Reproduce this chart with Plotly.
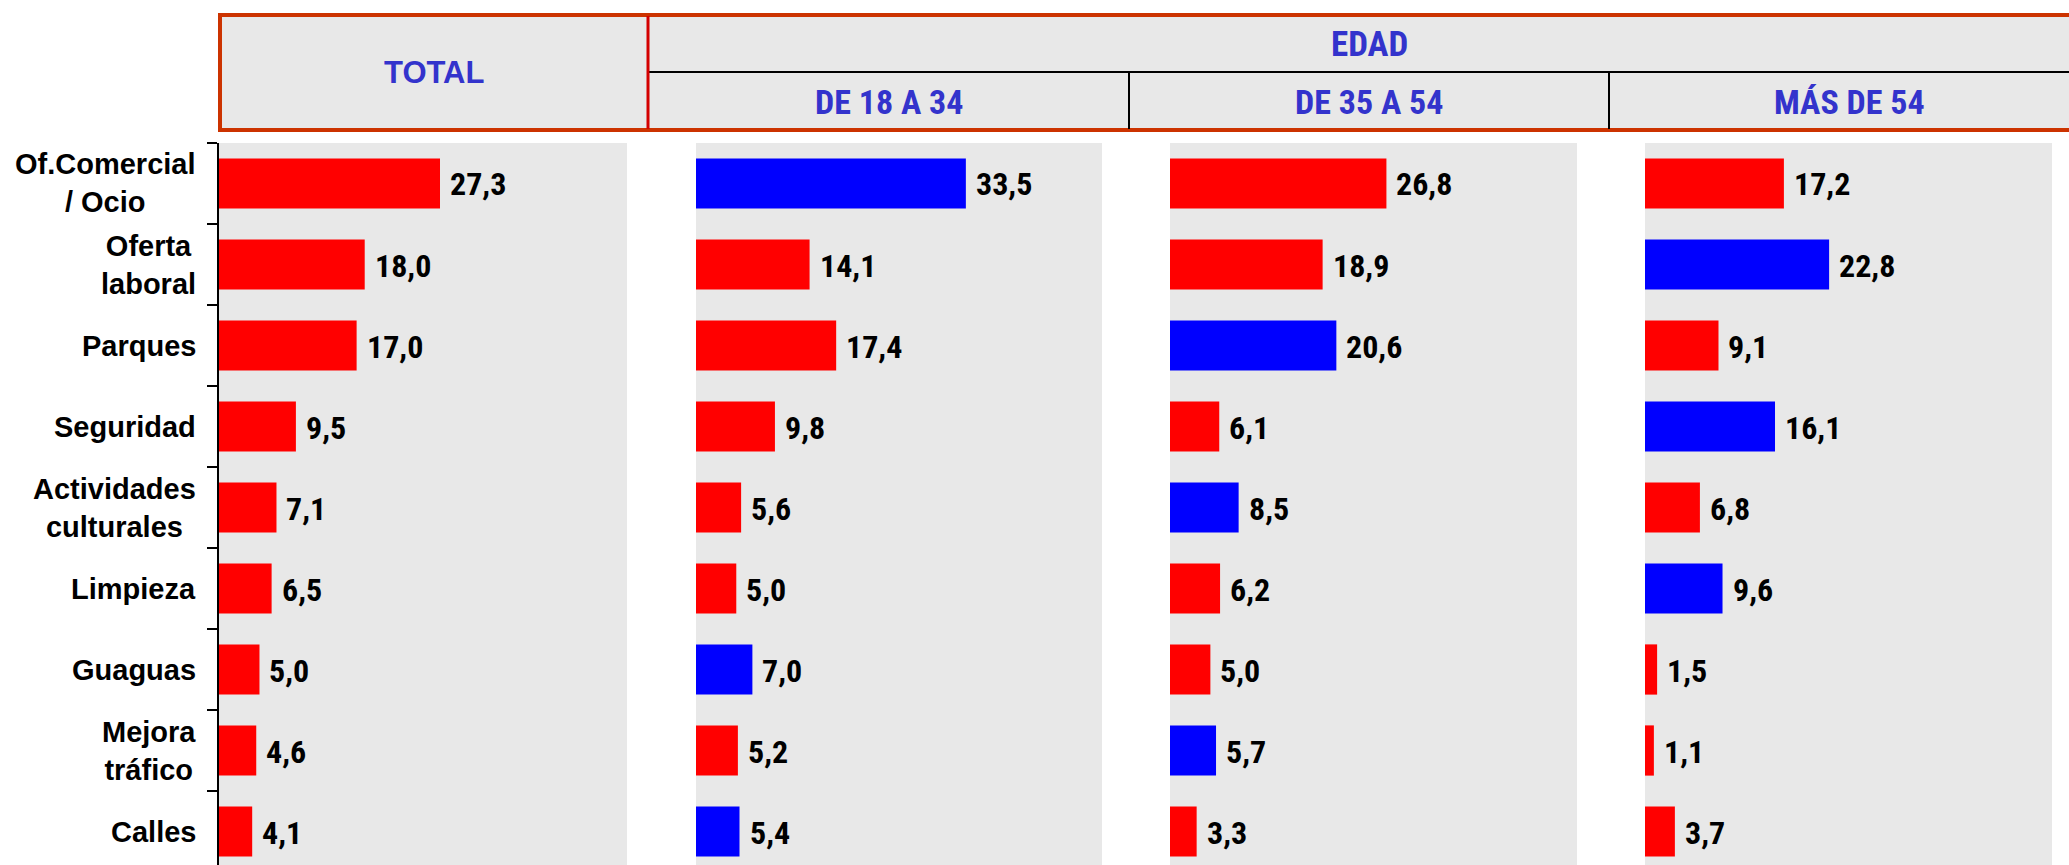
import plotly.graph_objects as go

# ---------------- data ----------------
categories = ["Of.Comercial / Ocio", "Oferta laboral", "Parques", "Seguridad",
              "Actividades culturales", "Limpieza", "Guaguas", "Mejora tráfico", "Calles"]
category_labels = ["Of.Comercial<br>/ Ocio", "Oferta<br>laboral", "Parques", "Seguridad",
                   "Actividades<br>culturales", "Limpieza", "Guaguas", "Mejora<br>tráfico", "Calles"]

panel_titles = ["TOTAL", "DE 18 A 34", "DE 35 A 54", "MÁS DE 54"]
group_title = "EDAD"

total = [27.3, 18.0, 17.0, 9.5, 7.1, 6.5, 5.0, 4.6, 4.1]
edad_18_34 = [33.5, 14.1, 17.4, 9.8, 5.6, 5.0, 7.0, 5.2, 5.4]
edad_35_54 = [26.8, 18.9, 20.6, 6.1, 8.5, 6.2, 5.0, 5.7, 3.3]
edad_mas_54 = [17.2, 22.8, 9.1, 16.1, 6.8, 9.6, 1.5, 1.1, 3.7]

# highlighted (blue) cells
hl_total = [False] * 9
hl_18_34 = [True, False, False, False, False, False, True, False, True]
hl_35_54 = [False, False, True, False, True, False, False, True, False]
hl_mas_54 = [False, True, False, True, False, True, False, False, False]

series = [total, edad_18_34, edad_35_54, edad_mas_54]
highlights = [hl_total, hl_18_34, hl_35_54, hl_mas_54]

# ---------------- layout constants ----------------
W, H = 2069, 865
RED = "#ff0000"
BLUE = "#0000ff"
HEAD_BLUE = "#3333cc"
NARROW = "Liberation Sans Narrow, Arial Narrow, Roboto Condensed, Liberation Sans, sans-serif"
SANS = "Liberation Sans, Arial, sans-serif"

panel_px = [(219, 627), (696, 1102), (1170, 1577), (1645, 2052)]
plot_top = 143
cat_h = 81.0
x_max = 50.4

def px(x):
    return x / W

def py(y):
    return 1 - y / H

fig = go.Figure()
annotations = []

for i, (vals, hl) in enumerate(zip(series, highlights)):
    ax = "" if i == 0 else str(i + 1)
    colors = [BLUE if h else RED for h in hl]
    fig.add_trace(go.Bar(
        x=vals, y=categories, orientation="h",
        marker=dict(color=colors, line=dict(width=0)),
        width=0.62, xaxis="x" + ax, yaxis="y" + ax,
        hoverinfo="x+y", showlegend=False,
    ))
    for v, c in zip(vals, categories):
        annotations.append(dict(
            x=v, y=c, xref="x" + ax, yref="y" + ax,
            text=f"{v:.1f}".replace(".", ","), showarrow=False,
            xanchor="left", yanchor="middle", xshift=8, yshift=-1,
            font=dict(family=NARROW, size=32, color="black", weight="bold"),
        ))
    x0, x1 = panel_px[i]
    fig.layout["xaxis" + ax] = dict(
        domain=[px(x0), px(x1)], range=[0, x_max], visible=False, fixedrange=True,
        anchor="y" + ax,
    )
    fig.layout["yaxis" + ax] = dict(
        domain=[0, py(plot_top)], type="category", categoryorder="array",
        categoryarray=categories,
        range=[-0.5 + (H - plot_top) / cat_h, -0.5],
        anchor="x" + ax, showticklabels=False, showgrid=False, zeroline=False,
        showline=(i == 0), linecolor="black", linewidth=2,
        ticks="outside" if i == 0 else "", tickson="boundaries", ticklen=10,
        tickcolor="black", tickwidth=2,
    )

# category labels (centered multi-line, right edge aligned)
for c, lab in zip(categories, category_labels):
    annotations.append(dict(
        x=px(198), y=c, xref="paper", yref="y", text=lab, showarrow=False,
        xanchor="right", yanchor="middle", align="center",
        font=dict(family=SANS, size=29, color="black", weight="bold"),
    ))

# ---------------- header ----------------
hx0, hx1 = 220, 2090
hy0, hy1 = 15, 130
hmid = 72
div_total = 648
sub_divs = [1129, 1609]

shapes = [
    dict(type="rect", xref="paper", yref="paper", x0=px(hx0), x1=px(hx1),
         y0=py(hy1), y1=py(hy0), fillcolor="#e8e8e8",
         line=dict(color="#cc3300", width=4), layer="below"),
    dict(type="line", xref="paper", yref="paper", x0=px(div_total), x1=px(hx1),
         y0=py(hmid), y1=py(hmid), line=dict(color="black", width=2)),
    dict(type="line", xref="paper", yref="paper", x0=px(div_total), x1=px(div_total),
         y0=py(hy1 - 1), y1=py(hy0 + 1), line=dict(color="#d40000", width=3)),
]
for d in sub_divs:
    shapes.append(dict(type="line", xref="paper", yref="paper", x0=px(d), x1=px(d),
                       y0=py(hy1 - 1), y1=py(hmid), line=dict(color="black", width=2)))

annotations.append(dict(
    x=px((hx0 + div_total) / 2), y=py((hy0 + hy1) / 2), xref="paper", yref="paper",
    text=panel_titles[0], showarrow=False, xanchor="center", yanchor="middle",
    font=dict(family=SANS, size=31, color=HEAD_BLUE, weight="bold"),
))
annotations.append(dict(
    x=px(1369), y=py((hy0 + hmid) / 2 + 1), xref="paper", yref="paper",
    text=group_title, showarrow=False, xanchor="center", yanchor="middle",
    font=dict(family=NARROW, size=35, color=HEAD_BLUE, weight="bold"),
))
sub_edges = [div_total] + sub_divs + [hx1]
for k in range(3):
    annotations.append(dict(
        x=px((sub_edges[k] + sub_edges[k + 1]) / 2), y=py((hmid + hy1) / 2 + 1),
        xref="paper", yref="paper", text=panel_titles[k + 1], showarrow=False,
        xanchor="center", yanchor="middle",
        font=dict(family=NARROW, size=34, color=HEAD_BLUE, weight="bold"),
    ))

fig.update_layout(
    width=W, height=H, margin=dict(l=0, r=0, t=0, b=0),
    paper_bgcolor="white", plot_bgcolor="#e8e8e8",
    bargap=0.38, shapes=shapes, annotations=annotations,
    showlegend=False,
)

fig.write_html(
    "out.html",
    config={"displayModeBar": False},
    post_script="document.body.style.margin='0px';document.body.style.overflow='hidden';",
)
